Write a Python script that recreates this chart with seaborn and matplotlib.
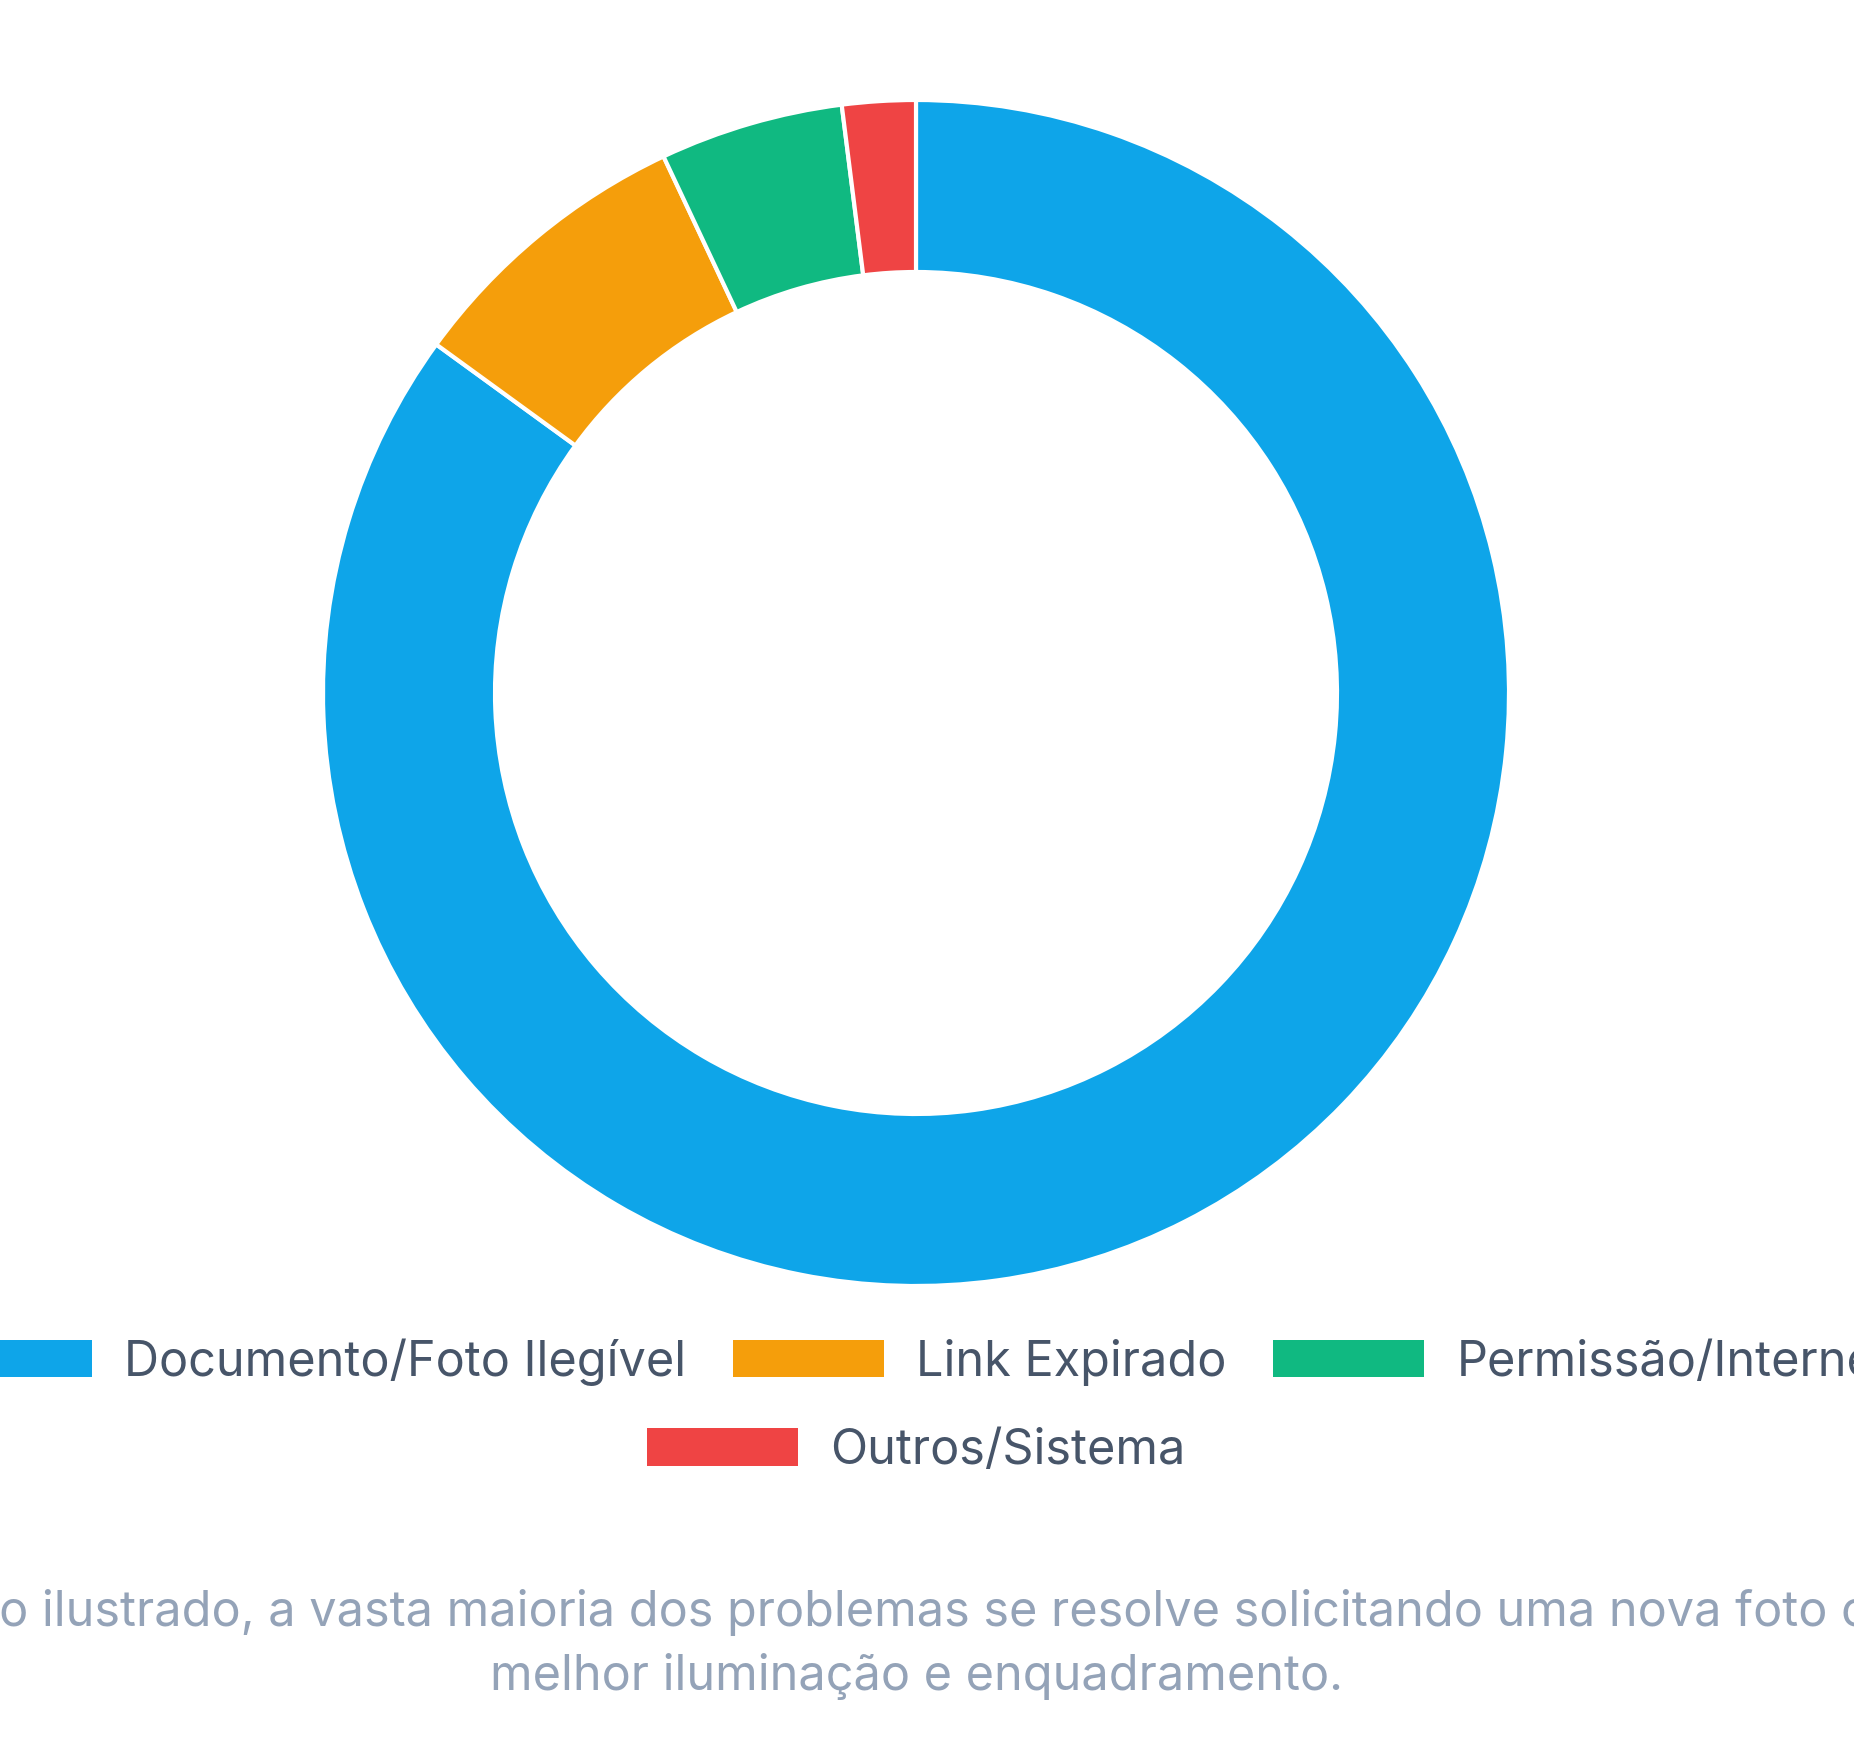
import matplotlib
matplotlib.use("Agg")
import matplotlib.pyplot as plt
from matplotlib.patches import Patch
import seaborn as sns

# Data
categories = ["Documento/Foto Ilegível", "Link Expirado", "Permissão/Internet", "Outros/Sistema"]
shares = [85, 8, 5, 2]
colors = ["#0ea5e9", "#f59e0b", "#10b981", "#ef4444"]
caption_lines = [
    "Como ilustrado, a vasta maioria dos problemas se resolve solicitando uma nova foto com",
    "melhor iluminação e enquadramento.",
]

sns.set_theme(style="white")
plt.rcParams["font.family"] = ["Inter", "DejaVu Sans"]

W, H = 1854, 1759
fig = plt.figure(figsize=(W / 100, H / 100), dpi=100)
ax = fig.add_axes([0, 0, 1, 1])

outer_r = 593
inner_r = 421
ax.pie(shares, colors=colors, startangle=90, counterclock=False,
       center=(916, H - 693), radius=outer_r,
       wedgeprops=dict(width=outer_r - inner_r, edgecolor="white", linewidth=3))
ax.set_xlim(0, W)
ax.set_ylim(0, H)
ax.set_aspect("equal")
ax.axis("off")

fs = 35
fs_px = fs * 100 / 72
handles = [Patch(facecolor=c, edgecolor="none") for c in colors]
common = dict(frameon=False, fontsize=fs, labelcolor="#475569",
              handlelength=151 / fs_px, handleheight=39 / fs_px,
              handletextpad=32 / fs_px, columnspacing=47 / fs_px,
              loc="center", borderpad=0, borderaxespad=0)
leg1 = fig.legend(handles[:3], categories[:3], ncol=3,
                  bbox_to_anchor=(916 / W, 1 - 1362 / H), **common)
leg2 = fig.legend(handles[3:], categories[3:], ncol=1,
                  bbox_to_anchor=(916 / W, 1 - 1451 / H), **common)

for line, y in zip(caption_lines, [1612, 1677]):
    fig.text(916 / W, 1 - y / H, line, ha="center", va="center",
             fontsize=fs, color="#94a3b8")

fig.savefig("out.png", dpi=100, facecolor="white")
